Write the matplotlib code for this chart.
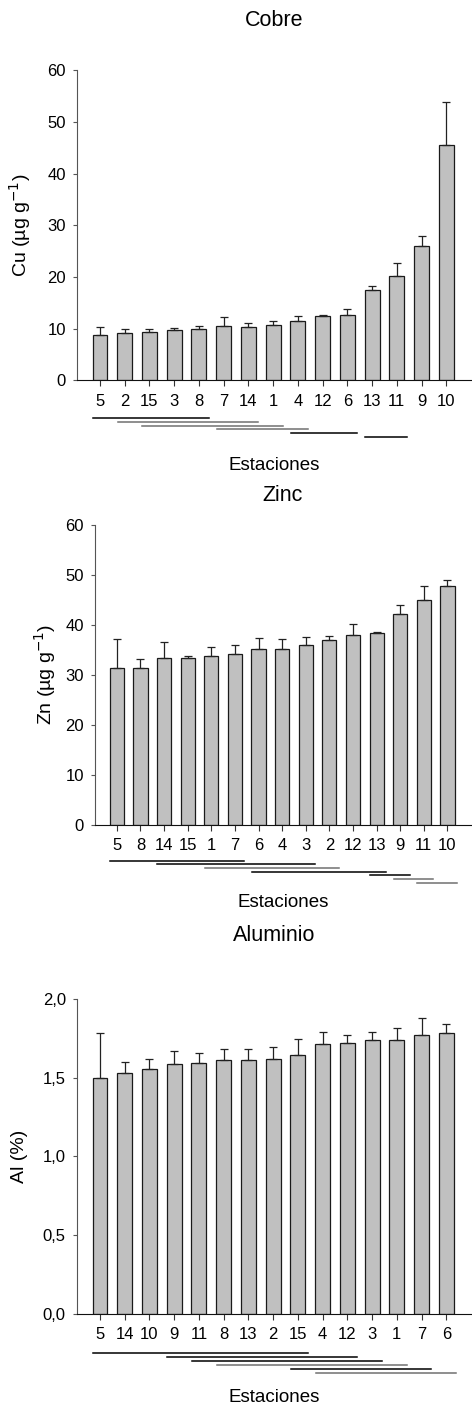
import numpy as np
import matplotlib
matplotlib.use('Agg')
import matplotlib.pyplot as plt
from matplotlib.ticker import FuncFormatter

plt.rcParams['font.family'] = ['Liberation Sans', 'DejaVu Sans']

# Cobre
cu_est = ['5', '2', '15', '3', '8', '7', '14', '1', '4', '12', '6', '13', '11', '9', '10']
cu_val = [8.8, 9.2, 9.35, 9.7, 9.95, 10.5, 10.3, 10.7, 11.5, 12.4, 12.7, 17.4, 20.2, 25.9, 45.5]
cu_sup = [10.3, 9.9, 9.9, 10.1, 10.4, 12.2, 11.1, 11.5, 12.4, 12.6, 13.7, 18.3, 22.7, 28.0, 53.8]
cu_grupos = [(0, 4), (1, 6), (2, 7), (5, 8), (8, 10), (11, 12)]
cu_gris = [False, True, True, True, False, False]

# Zinc
zn_est = ['5', '8', '14', '15', '1', '7', '6', '4', '3', '2', '12', '13', '9', '11', '10']
zn_val = [31.3, 31.4, 33.3, 33.3, 33.7, 34.1, 35.1, 35.1, 35.9, 36.9, 37.9, 38.4, 42.2, 45.0, 47.8]
zn_sup = [37.1, 33.2, 36.5, 33.7, 35.5, 35.9, 37.3, 37.1, 37.5, 37.8, 40.1, 38.6, 43.9, 47.8, 48.9]
zn_grupos = [(0, 5), (2, 8), (4, 9), (6, 11), (11, 12), (12, 13), (13, 14)]
zn_gris = [False, False, True, False, False, True, True]

# Aluminio
al_est = ['5', '14', '10', '9', '11', '8', '13', '2', '15', '4', '12', '3', '1', '7', '6']
al_val = [1.50, 1.532, 1.555, 1.589, 1.594, 1.611, 1.615, 1.621, 1.643, 1.717, 1.723, 1.738, 1.740, 1.774, 1.787]
al_sup = [1.783, 1.600, 1.621, 1.672, 1.660, 1.683, 1.681, 1.694, 1.745, 1.794, 1.772, 1.794, 1.817, 1.883, 1.843]
al_grupos = [(0, 8), (3, 10), (4, 11), (5, 12), (8, 13), (9, 14)]
al_gris = [False, False, False, True, False, True]


def panel(ax, est, val, sup, grupos, gris, ymax, ystep, titulo, ylab, pad,
          ylab_x, xlab_y, linea_y0, linea_dy, coma=False):
    x = np.arange(len(est))
    err = np.array(sup) - np.array(val)
    ax.bar(x, val, width=0.6, color='#c0c0c0', edgecolor='#1a1a1a', linewidth=0.9,
           yerr=[np.zeros(len(err)), err], capsize=3,
           error_kw=dict(ecolor='#222222', elinewidth=0.9, capthick=0.9))
    ax.set_xlim(-0.93, 15.0)
    ax.set_ylim(0, ymax)
    ax.set_yticks(np.arange(0, ymax + ystep / 2, ystep))
    if coma:
        ax.yaxis.set_major_formatter(FuncFormatter(lambda v, p: f'{v:.1f}'.replace('.', ',')))
    ax.set_xticks(x)
    ax.set_xticklabels(est)
    ax.spines['top'].set_visible(False)
    ax.spines['right'].set_visible(False)
    ax.spines['left'].set_color('#555555')
    ax.spines['bottom'].set_color('#111111')
    ax.tick_params(axis='x', length=4, width=0.8, pad=6, labelsize=12, color='#333333')
    ax.tick_params(axis='y', length=3, width=0.8, pad=5, labelsize=12, color='#555555')
    ax.set_title(titulo, fontsize=15.5, pad=pad)
    ax.set_ylabel(ylab, fontsize=14, va='center')
    ax.yaxis.set_label_coords(ylab_x, 0.5)
    ax.set_xlabel('Estaciones', fontsize=13.5, va='center')
    ax.xaxis.set_label_coords(0.5, xlab_y)
    # lineas de grupos homogeneos
    tr = ax.get_xaxis_transform()
    for k, ((i, j), g) in enumerate(zip(grupos, gris)):
        yy = linea_y0 - k * linea_dy
        ax.plot([x[i] - 0.28, x[j] + 0.4], [yy, yy], transform=tr, clip_on=False,
                color='#707070' if g else '#000000', lw=1.1)


fig = plt.figure(figsize=(4.72, 14.08), dpi=100)
ax1 = fig.add_axes([0.163, 0.730, 0.835, 0.220])
ax2 = fig.add_axes([0.201, 0.4144, 0.797, 0.2127])
ax3 = fig.add_axes([0.163, 0.0671, 0.835, 0.2232])

panel(ax1, cu_est, cu_val, cu_sup, cu_grupos, cu_gris, 60, 10, 'Cobre',
      'Cu (µg g$^{-1}$)', 32, -0.145, -0.274, -0.122, 0.0122)
panel(ax2, zn_est, zn_val, zn_sup, zn_grupos, zn_gris, 60, 10, 'Zinc',
      'Zn (µg g$^{-1}$)', 17, -0.133, -0.262, -0.121, 0.0122)
panel(ax3, al_est, al_val, al_sup, al_grupos, al_gris, 2.0, 0.5, 'Aluminio',
      'Al (%)', 42, -0.145, -0.266, -0.127, 0.0126, coma=True)

fig.savefig('out.png', dpi=100)
